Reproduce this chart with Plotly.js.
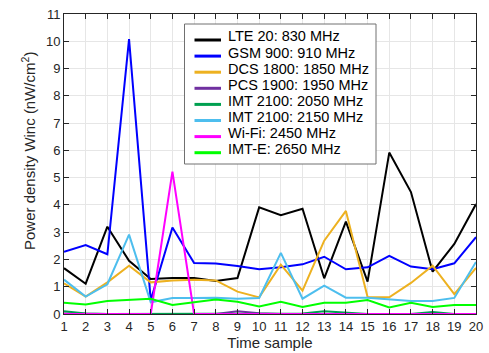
<!DOCTYPE html>
<html>
<head>
<meta charset="utf-8">
<script src="https://cdn.plot.ly/plotly-3.0.1.min.js"></script>
<style>html,body{margin:0;padding:0;background:#fff;}#chart{width:489px;height:353px;}</style>
</head>
<body>
<div id="chart"></div>
<script>
var timeSamples = [1,2,3,4,5,6,7,8,9,10,11,12,13,14,15,16,17,18,19,20];
var seriesNames = ["LTE 20: 830 MHz","GSM 900: 910 MHz","DCS 1800: 1850 MHz","PCS 1900: 1950 MHz","IMT 2100: 2050 MHz","IMT 2100: 2150 MHz","Wi-Fi: 2450 MHz","IMT-E: 2650 MHz"];
var lte20  = [1.68,1.11,3.2,1.95,1.28,1.32,1.32,1.21,1.32,3.91,3.62,3.86,1.31,3.39,1.19,5.92,4.47,1.55,2.57,4.03];
var gsm900 = [2.28,2.53,2.19,10.08,0.5,3.17,1.87,1.85,1.76,1.64,1.71,1.82,2.1,1.64,1.71,2.13,1.74,1.64,1.86,2.82];
var dcs1800= [1.12,0.64,1.16,1.77,1.16,1.23,1.26,1.23,0.82,0.61,1.81,0.86,2.69,3.78,0.62,0.61,1.14,1.77,0.73,1.69];
var pcs1900= [0.02,0.0,0.0,0.0,0.0,0.0,0.0,0.0,0.1,0.03,0.0,0.0,0.02,0.0,0.0,0.0,0.0,0.02,0.0,0.0];
var imt2050= [0.1,0.02,0.0,0.0,0.0,0.02,0.02,0.02,0.02,0.0,0.0,0.02,0.1,0.04,0.0,0.0,0.0,0.07,0.0,0.0];
var imt2150= [1.26,0.64,1.09,2.91,0.43,0.59,0.59,0.6,0.56,0.59,2.24,0.56,1.04,0.6,0.6,0.53,0.48,0.48,0.59,1.91];
var wifi   = [0,0,0,0,0,5.22,0,0,0,0,0,0,0,0,0,0,0,0,0,0];
var imtE   = [0.41,0.35,0.48,0.53,0.56,0.33,0.43,0.53,0.45,0.28,0.45,0.26,0.41,0.41,0.51,0.24,0.41,0.26,0.33,0.33];
var yTicks = [0,1,2,3,4,5,6,7,8,9,10,11];

var allSeries = [lte20,gsm900,dcs1800,pcs1900,imt2050,imt2150,wifi,imtE];
var colors = ["#000000","#0000ff","#edb120","#7030a0","#00a050","#4dbeee","#ff00ff","#00ff00"];

var W = 489, H = 353, ML = 64, MR = 13, MT = 14, MB = 39;
var PW = W - ML - MR, PH = H - MT - MB;
function px2x(p){ return (p - ML) / PW; }
function px2y(p){ return (H - MB - p) / PH; }

var traces = allSeries.map(function(s,i){
  return {x: timeSamples, y: s, type:'scatter', mode:'lines', name: seriesNames[i],
          line:{color: colors[i], width: 2}, showlegend:false};
});

// hand-built legend box (MATLAB-style compact rows)
var shapes = [{type:'rect', xref:'paper', yref:'paper',
  x0:px2x(184.5), x1:px2x(376), y0:px2y(164), y1:px2y(24),
  line:{color:'#707070', width:1}, fillcolor:'#ffffff', layer:'above'}];
var annotations = [];
var rowStep = 16.1;
seriesNames.forEach(function(n,i){
  var cy = 36.5 + rowStep*i;
  shapes.push({type:'line', xref:'paper', yref:'paper',
    x0:px2x(194.5), x1:px2x(221), y0:px2y(cy+3.5), y1:px2y(cy+3.5),
    line:{color:colors[i], width:3}, layer:'above'});
  annotations.push({xref:'paper', yref:'paper', x:px2x(225.5), y:px2y(cy),
    xanchor:'left', yanchor:'middle', showarrow:false, text:n,
    font:{size:14.5, color:'#000'}});
});
annotations.push({xref:'paper', yref:'paper', x:px2x(28), y:px2y(151),
  xanchor:'center', yanchor:'middle', showarrow:false, textangle:-90,
  text:'Power density Winc (nW/cm<sup>2</sup>)', font:{size:15, color:'#262626'}});

var layout = {
  width: W, height: H,
  margin: {l:ML, r:MR, t:MT, b:MB, pad:0},
  paper_bgcolor:'#fff', plot_bgcolor:'#fff',
  font: {family:'Liberation Sans, Arial, sans-serif', size:13, color:'#262626'},
  showlegend: false,
  shapes: shapes,
  annotations: annotations,
  xaxis: {range:[1,20], tickvals: timeSamples, ticks:'inside', ticklen:5, tickcolor:'#262626',
          showline:true, linecolor:'#262626', linewidth:1, mirror:'ticks',
          showgrid:true, gridcolor:'#e6e6e6', gridwidth:1, zeroline:false,
          tickfont:{size:13, color:'#262626'},
          title:{text:'Time sample', font:{size:15, color:'#262626'}, standoff:4}},
  yaxis: {range:[0,11], tickvals: yTicks, ticks:'inside', ticklen:5, tickcolor:'#262626',
          showline:true, linecolor:'#262626', linewidth:1, mirror:'ticks',
          showgrid:true, gridcolor:'#e6e6e6', gridwidth:1, zeroline:false,
          tickfont:{size:13, color:'#262626'}}
};
Plotly.newPlot('chart', traces, layout, {staticPlot:true, displayModeBar:false});
</script>
</body>
</html>
